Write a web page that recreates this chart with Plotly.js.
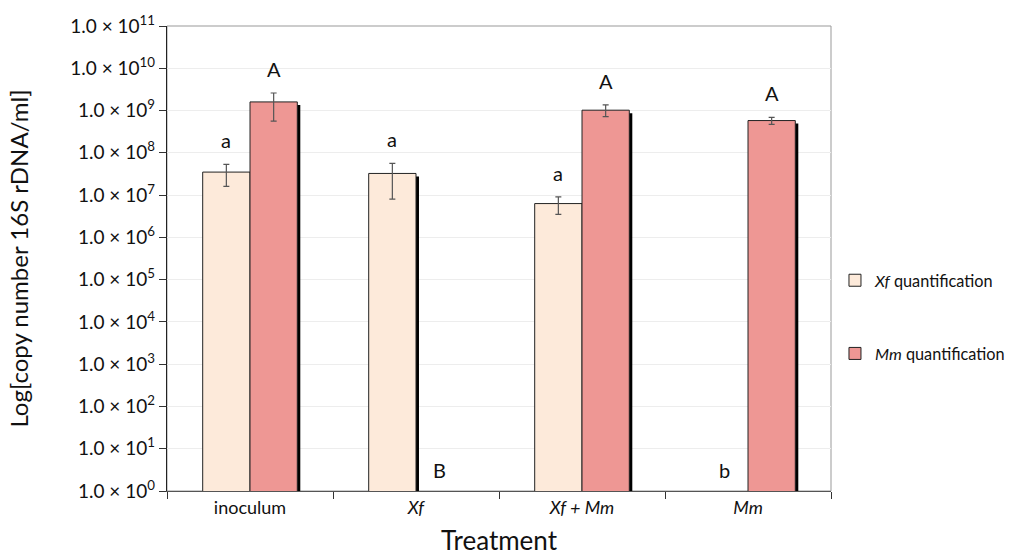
<!DOCTYPE html>
<html>
<head>
<meta charset="utf-8">
<script src="https://cdn.plot.ly/plotly-3.0.1.min.js"></script>
<style>html,body{margin:0;padding:0;background:#fff;}#chart{width:1022px;height:556px;}</style>
</head>
<body>
<div id="chart"></div>
<script>
// ---- data ----
const treatments = ['inoculum', '<i>Xf</i>', '<i>Xf + Mm</i>', '<i>Mm</i>'];
const xfValues = [3.5e7, 3.25e7, 6.3e6, null];
const xfErrPlus = [1.8e7, 2.4e7, 2.8e6, null];
const xfErrMinus = [1.9e7, 2.45e7, 2.8e6, null];
const mmValues = [1.6e9, null, 1.02e9, 5.8e8];
const mmErrPlus = [1.0e9, null, 3.4e8, 1.1e8];
const mmErrMinus = [1.04e9, null, 3.0e8, 1.1e8];
const xfLetters = ['a', 'a', 'a', 'b'];
const mmLetters = ['A', 'B', 'A', 'A'];
const tickExponents = [0, 1, 2, 3, 4, 5, 6, 7, 8, 9, 10, 11];
const seriesNames = ['<i>Xf</i> quantification', '<i>Mm</i> quantification'];

// ---- styling ----
const FONT = 'Lato, "Open Sans", sans-serif';
const barW = 0.285;
const shadowDx = 0.018;
const xfColor = '#FDEADA';
const mmColor = '#EE9794';

const tickVals = tickExponents.map(e => Math.pow(10, e));
const tickText = tickExponents.map(e => '1.0 × 10<sup>' + e + '</sup>');

function shadow(vals, off) {
  return {
    type: 'bar', x: treatments, y: vals.map(v => v == null ? null : v * 0.85),
    offset: off + shadowDx, width: barW, marker: {color: '#000', line: {width: 0}},
    showlegend: false, hoverinfo: 'skip'
  };
}
function main(vals, ep, em, off, color, name, grp) {
  return {
    type: 'bar', x: treatments, y: vals, name: name, legendgroup: grp,
    offset: off, width: barW,
    marker: {color: color, line: {color: '#222', width: 1}},
    error_y: {type: 'data', symmetric: false, array: ep, arrayminus: em,
              color: '#555', thickness: 1.2, width: 3}
  };
}

const traces = [
  shadow(xfValues, -barW), shadow(mmValues, 0),
  main(xfValues, xfErrPlus, xfErrMinus, -barW, xfColor, seriesNames[0], 'g1'),
  main(mmValues, mmErrPlus, mmErrMinus, 0, mmColor, seriesNames[1], 'g2')
];

const annotations = [];
function addLetters(letters, vals, ep, off) {
  letters.forEach((t, i) => {
    const has = vals[i] != null;
    annotations.push({
      x: i + off + barW / 2, xref: 'x', y: has ? Math.log10(vals[i] + ep[i]) : 0, yref: 'y',
      text: t, showarrow: false, yanchor: 'middle', yshift: has ? 24 : 21,
      font: {family: FONT, size: 20, color: '#111'}
    });
  });
}
addLetters(xfLetters, xfValues, xfErrPlus, -barW);
addLetters(mmLetters, mmValues, mmErrPlus, 0);

const layout = {
  width: 1022, height: 556,
  margin: {l: 167, r: 188, t: 26, b: 65},
  paper_bgcolor: '#fff', plot_bgcolor: '#fff',
  barmode: 'overlay',
  font: {family: FONT, color: '#111'},
  xaxis: {
    type: 'category', tickson: 'boundaries', ticks: 'outside', ticklen: 7,
    tickcolor: '#333', showgrid: false, showline: true, linecolor: '#555', linewidth: 1.2,
    tickfont: {family: FONT, size: 18, color: '#111'},
    title: {text: 'Treatment', font: {family: FONT, size: 26, color: '#111'}, standoff: 19},
    range: [-0.5, 3.5]
  },
  yaxis: {
    type: 'log', range: [0, 11], tickvals: tickVals, ticktext: tickText,
    ticks: 'outside', ticklen: 7, tickcolor: '#333',
    showgrid: true, gridcolor: '#EDEDED', gridwidth: 1,
    showline: true, linecolor: '#222', linewidth: 1.2,
    tickfont: {family: FONT, size: 19, color: '#111'},
    title: {text: 'Log[copy number 16S rDNA/ml]', font: {family: FONT, size: 24, color: '#111'}, standoff: 34},
    zeroline: false
  },
  legend: {
    x: 1.006, y: 0.49, xanchor: 'left', yanchor: 'top',
    font: {family: FONT, size: 16.3, color: '#111'}, bgcolor: 'rgba(0,0,0,0)',
    tracegroupgap: 49, itemwidth: 30, traceorder: 'grouped', borderwidth: 0
  },
  shapes: [{
    type: 'rect', xref: 'paper', yref: 'paper', x0: 0, x1: 1, y0: 0, y1: 1,
    line: {color: '#999', width: 1}, layer: 'below'
  }],
  annotations: annotations
};

Plotly.newPlot('chart', traces, layout, {displayModeBar: false, staticPlot: true});
</script>
</body>
</html>
